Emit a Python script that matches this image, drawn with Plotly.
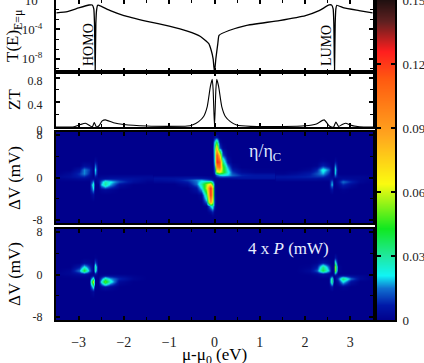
import numpy as np
import plotly.graph_objects as go

W, H = 424, 363
SERIF = 'Liberation Serif'

# transmission, log10 T(E) at E = mu
T_X = [-3.49, -3.25, -3.0, -2.77, -2.70, -2.665, -2.65, -2.635, -2.62, -2.605, -2.58, -2.55, -2.30, -2.0,
       -1.49, -1.0, -0.6, -0.31, -0.126, -0.073, -0.03, -0.015, 0.0, 0.015, 0.03, 0.073, 0.10, 0.32, 0.69,
       1.43, 2.01, 2.31, 2.53, 2.585, 2.62, 2.635, 2.65, 2.665, 2.68, 2.70, 2.86, 3.19, 3.49]
T_LOG = [-1.74, -1.57, -1.07, -0.66, -0.66, -1.2, -3.2, -9.77, -3.2, -1.43, -0.7, -0.7, -1.43, -2.1,
         -2.88, -3.55, -4.23, -4.95, -5.93, -6.84, -8.0, -9.0, -9.8, -9.0, -8.0, -5.93, -4.8, -4.14, -3.46,
         -2.78, -2.1, -1.43, -0.66, -0.66, -1.2, -3.2, -9.77, -3.2, -1.2, -0.7, -1.07, -1.43, -1.75]

# figure of merit
ZT_X = [-3.5, -3.1, -2.96, -2.85, -2.75, -2.70, -2.655, -2.605, -2.55, -2.48, -2.41, -2.23, -2.0, -1.49,
        -1.05, -0.6, -0.49, -0.35, -0.24, -0.16, -0.09, -0.05, -0.03, 0.0, 0.03, 0.05, 0.09, 0.16, 0.24,
        0.35, 0.49, 0.8, 1.5, 2.0, 2.25, 2.42, 2.53, 2.585, 2.63, 2.68, 2.74, 2.82, 2.9, 3.0, 3.2, 3.5]
ZT_Y = [0.0, 0.005, 0.04, 0.06, 0.02, 0.0, 0.07, 0.0, 0.02, 0.1, 0.115, 0.07, 0.04, 0.015,
        0.01, 0.015, 0.033, 0.087, 0.17, 0.33, 0.66, 0.77, 0.6, 0.0, 0.6, 0.77, 0.66, 0.33, 0.17,
        0.087, 0.033, 0.01, 0.008, 0.02, 0.05, 0.115, 0.02, 0.0, 0.0, 0.08, 0.01, 0.04, 0.06, 0.03, 0.005, 0.0]

# heat map grids, bias rows are shared by the side patches
BIAS = [-4.5, -3.2, -2.2, -1.4, -0.7, -0.2, 0.2, 0.8, 1.5, 2.3, 3.2, 4.2]
LEFT_X = [-3.5, -3.2, -3.0, -2.88, -2.77, -2.69, -2.63, -2.57, -2.5, -2.42, -2.3, -2.1, -1.8, -1.5]
RIGHT_X = [1.5, 1.8, 2.1, 2.25, 2.38, 2.52, 2.585, 2.625, 2.66, 2.72, 2.84, 3.0, 3.2, 3.5]
MID_X = [-1.2, -0.9, -0.6, -0.4, -0.28, -0.18, -0.1, -0.04, 0.0, 0.05, 0.1, 0.18, 0.28, 0.4, 0.6, 0.9, 1.2]
MID_BIAS = [-7.0, -6.4, -5.4, -4.5, -3.25, -2.0, -1.1, -0.4, 0.0, 0.5, 1.1, 2.0, 3.0, 4.25, 5.5, 6.75, 7.6]

# efficiency and power, all in units of 1e-3
ETA_LEFT = [
    [0, 0, 0, 0, 0, 0, 0, 0, 0, 0, 0, 0, 0, 0],
    [0, 0, 0, 0, 0, 4, 0, 0, 0, 0, 0, 0, 0, 0],
    [0, 0, 0, 0, 0, 18, 0, 0, 2, 3, 2, 0, 0, 0],
    [0, 0, 0, 0, 0, 26, 0, 0, 18, 30, 18, 4, 0, 0],
    [0, 0, 0, 0, 0, 16, 0, 3, 14, 28, 22, 12, 4, 1],
    [1, 2, 3, 3, 2, 3, 2, 3, 4, 5, 6, 6, 5, 3],
    [2, 4, 7, 8, 4, 1, 6, 1, 2, 2, 3, 3, 3, 3],
    [0, 3, 9, 16, 8, 0, 16, 0, 0, 0, 0, 0, 0, 0],
    [0, 0, 5, 16, 10, 0, 20, 0, 0, 0, 0, 0, 0, 0],
    [0, 0, 0, 4, 3, 0, 14, 0, 0, 0, 0, 0, 0, 0],
    [0, 0, 0, 0, 0, 0, 3, 0, 0, 0, 0, 0, 0, 0],
    [0, 0, 0, 0, 0, 0, 0, 0, 0, 0, 0, 0, 0, 0],
]
ETA_RIGHT = [
    [0, 0, 0, 0, 0, 0, 0, 0, 0, 0, 0, 0, 0, 0],
    [0, 0, 0, 0, 0, 0, 0, 0, 0, 0, 0, 0, 0, 0],
    [0, 0, 0, 0, 0, 0, 5, 0, 0, 0, 1, 0, 0, 0],
    [0, 0, 0, 0, 0, 0, 20, 0, 0, 2, 8, 3, 0, 0],
    [0, 0, 0, 0, 0, 0, 16, 0, 0, 4, 15, 8, 2, 0],
    [4, 4, 4, 4, 3, 3, 5, 1, 1, 2, 4, 3, 2, 1],
    [6, 7, 8, 9, 9, 4, 2, 4, 10, 3, 2, 2, 2, 1],
    [1, 3, 7, 12, 18, 8, 0, 0, 20, 0, 0, 0, 0, 0],
    [0, 0, 2, 8, 24, 14, 0, 0, 24, 0, 0, 0, 0, 0],
    [0, 0, 0, 1, 8, 3, 0, 0, 16, 0, 0, 0, 0, 0],
    [0, 0, 0, 0, 1, 0, 0, 0, 3, 0, 0, 0, 0, 0],
    [0, 0, 0, 0, 0, 0, 0, 0, 0, 0, 0, 0, 0, 0],
]
ETA_MID = [
    [0, 0, 0, 0, 0, 0, 0, 2, 0, 0, 0, 0, 0, 0, 0, 0, 0],
    [0, 0, 0, 0, 0, 0, 3, 8, 0, 0, 0, 0, 0, 0, 0, 0, 0],
    [0, 0, 0, 0, 0, 1, 20, 28, 5, 0, 0, 0, 0, 0, 0, 0, 0],
    [0, 0, 0, 0, 0, 15, 95, 60, 8, 0, 0, 0, 0, 0, 0, 0, 0],
    [0, 0, 0, 0, 3, 35, 125, 80, 6, 0, 0, 0, 0, 0, 0, 0, 0],
    [0, 0, 0, 6, 22, 60, 125, 80, 5, 0, 0, 0, 0, 0, 0, 0, 0],
    [0, 0, 4, 14, 30, 55, 70, 40, 3, 0, 0, 0, 0, 0, 0, 0, 0],
    [4, 5, 10, 16, 18, 14, 10, 6, 2, 1, 0, 0, 0, 0, 0, 0, 0],
    [5, 5, 6, 6, 5, 4, 3, 2, 1, 3, 4, 4, 4, 5, 6, 6, 6],
    [0, 0, 0, 0, 0, 0, 0, 0, 4, 14, 20, 22, 20, 14, 8, 6, 6],
    [0, 0, 0, 0, 0, 0, 0, 0, 10, 55, 65, 50, 25, 10, 3, 1, 1],
    [0, 0, 0, 0, 0, 0, 0, 0, 15, 95, 105, 50, 18, 3, 0, 0, 0],
    [0, 0, 0, 0, 0, 0, 0, 0, 20, 125, 115, 35, 6, 0, 0, 0, 0],
    [0, 0, 0, 0, 0, 0, 0, 0, 25, 120, 75, 12, 1, 0, 0, 0, 0],
    [0, 0, 0, 0, 0, 0, 0, 0, 30, 80, 14, 2, 0, 0, 0, 0, 0],
    [0, 0, 0, 0, 0, 0, 0, 0, 20, 40, 3, 0, 0, 0, 0, 0, 0],
    [0, 0, 0, 0, 0, 0, 0, 0, 4, 4, 0, 0, 0, 0, 0, 0, 0],
]
POWER_LEFT = [
    [0, 0, 0, 0, 0, 0, 0, 0, 0, 0, 0, 0, 0, 0],
    [0, 0, 0, 0, 0, 3, 0, 0, 0, 0, 0, 0, 0, 0],
    [0, 0, 0, 0, 0, 25, 0, 0, 3, 5, 3, 0, 0, 0],
    [0, 0, 0, 0, 0, 60, 0, 0, 22, 50, 25, 3, 0, 0],
    [0, 0, 0, 0, 0, 30, 0, 0, 12, 30, 18, 8, 2, 0],
    [0, 1, 2, 2, 1, 4, 1, 0, 2, 4, 4, 3, 1, 0],
    [1, 2, 5, 7, 3, 0, 7, 0, 0, 0, 0, 0, 0, 0],
    [0, 2, 15, 42, 16, 0, 26, 0, 0, 0, 0, 0, 0, 0],
    [0, 0, 6, 22, 10, 0, 28, 0, 0, 0, 0, 0, 0, 0],
    [0, 0, 0, 3, 2, 0, 12, 0, 0, 0, 0, 0, 0, 0],
    [0, 0, 0, 0, 0, 0, 1, 0, 0, 0, 0, 0, 0, 0],
    [0, 0, 0, 0, 0, 0, 0, 0, 0, 0, 0, 0, 0, 0],
]
POWER_RIGHT = [
    [0, 0, 0, 0, 0, 0, 0, 0, 0, 0, 0, 0, 0, 0],
    [0, 0, 0, 0, 0, 0, 0, 0, 0, 0, 0, 0, 0, 0],
    [0, 0, 0, 0, 0, 0, 6, 0, 0, 0, 2, 0, 0, 0],
    [0, 0, 0, 0, 0, 0, 35, 0, 0, 4, 22, 5, 0, 0],
    [0, 0, 0, 0, 0, 0, 32, 0, 0, 10, 36, 14, 3, 0],
    [0, 0, 0, 1, 3, 2, 6, 0, 2, 3, 6, 4, 2, 0],
    [0, 0, 1, 3, 6, 3, 0, 3, 16, 0, 0, 0, 0, 0],
    [0, 0, 3, 12, 40, 18, 0, 3, 52, 2, 0, 0, 0, 0],
    [0, 0, 1, 6, 32, 12, 0, 3, 55, 2, 0, 0, 0, 0],
    [0, 0, 0, 1, 6, 2, 0, 0, 28, 0, 0, 0, 0, 0],
    [0, 0, 0, 0, 0, 0, 0, 0, 6, 0, 0, 0, 0, 0],
    [0, 0, 0, 0, 0, 0, 0, 0, 0, 0, 0, 0, 0, 0],
]

CBAR_TICKS = [0, 0.03, 0.06, 0.09, 0.12, 0.15]
CBAR_LABELS = ['0', '0.03', '0.06', '0.09', '0.12', '0.15']

ZMAX = 0.15
COLORS = [(0, '#00008c'), (0.007, '#0018a8'), (0.015, '#1070d0'), (0.021, '#10f5f5'), (0.03, '#20e8a0'),
          (0.043, '#10e820'), (0.064, '#fbfb10'), (0.087, '#ffa51e'), (0.113, '#ff5a10'), (0.126, '#ff1e1e'),
          (0.14, '#602020'), (0.15, '#201010')]
colorscale = [[v / ZMAX, c] for v, c in COLORS]


def ydom(top, bottom):
    return [1 - bottom / H, 1 - top / H]


XDOM = [56 / W, 373 / W]


def xaxis(anchor, labels=False):
    return dict(domain=XDOM, range=[-3.5, 3.5], anchor=anchor, tick0=-3, dtick=1, ticks='inside', ticklen=4,
                tickwidth=1.5, tickcolor='black', showline=True, linecolor='black', linewidth=2, mirror='ticks',
                showgrid=False, zeroline=False, showticklabels=labels, ticklabelstandoff=8, automargin=False,
                minor=dict(ticks='inside', dtick=0.5, ticklen=3, tickwidth=1.2, tickcolor='black', showgrid=False),
                tickfont=dict(family=SERIF, size=14, color='#222'))


def yaxis(anchor, top, bottom, yrange, vals, text, minor, size=12, shift=0):
    return dict(domain=ydom(top, bottom), range=yrange, anchor=anchor, tickmode='array', tickvals=vals,
                ticktext=text, ticks='inside', ticklen=4, tickwidth=1.5, tickcolor='black', showline=True,
                linecolor='black', linewidth=2, mirror='ticks', showgrid=False, zeroline=False,
                ticklabelstandoff=9, automargin=False, ticklabeloverflow='allow', ticklabelshift=shift,
                minor=dict(ticks='inside', tickmode='array', tickvals=minor, ticklen=3, tickwidth=1.2,
                           tickcolor='black', showgrid=False),
                tickfont=dict(family=SERIF, size=size, color='#222'))


def patch(x, y, z, n):
    return go.Heatmap(x=x, y=y, z=np.array(z) * 1e-3, zmin=0, zmax=ZMAX, colorscale=colorscale, zsmooth='best',
                      showscale=False, xaxis=f'x{n}', yaxis=f'y{n}')


fig = go.Figure()
fig.add_trace(go.Scatter(x=T_X, y=T_LOG, mode='lines', line=dict(color='black', width=1.3, shape='spline', smoothing=0.4),
                         xaxis='x', yaxis='y', showlegend=False))
fig.add_trace(go.Scatter(x=ZT_X, y=ZT_Y, mode='lines', line=dict(color='black', width=1.1, shape='spline', smoothing=0.5),
                         xaxis='x2', yaxis='y2', showlegend=False))
fig.add_trace(patch(LEFT_X, BIAS, ETA_LEFT, 3))
fig.add_trace(patch(MID_X, MID_BIAS, ETA_MID, 3))
fig.add_trace(patch(RIGHT_X, BIAS, ETA_RIGHT, 3))
fig.add_trace(patch(LEFT_X, BIAS, POWER_LEFT, 4))
fig.add_trace(patch(RIGHT_X, BIAS, POWER_RIGHT, 4))
# colour bar drawn as its own panel so the ticks can sit on both edges
fig.add_trace(go.Heatmap(x=[0, 1], y=[0, ZMAX], z=[[0, 0], [ZMAX, ZMAX]], zmin=0, zmax=ZMAX, colorscale=colorscale,
                         zsmooth='best', showscale=False, xaxis='x5', yaxis='y5'))

navy = COLORS[0][1]
bias_axis = dict(vals=[-8, 0, 8], text=['-8', '0', '8'], minor=[-4, 4], yrange=[-8.55, 8.55])

fig.update_layout(
    width=W, height=H, margin=dict(l=0, r=0, t=0, b=0), paper_bgcolor='white', plot_bgcolor='white',
    xaxis=xaxis('y'),
    yaxis=yaxis('x', 0, 72, [-9.8, 0.02], [-8, -4, 0], ['10<sup>-8</sup>', '10<sup>-4</sup>', '10<sup>0</sup>'],
                [-9.33, -6.67, -5.33, -2.67, -1.33], size=13),
    xaxis2=xaxis('y2'),
    yaxis2=yaxis('x2', 72, 127, [0, 0.89], [0, 0.4, 0.8], ['0', '0.4', '0.8'], [0.2, 0.6], shift=3),
    xaxis3=xaxis('y3'),
    yaxis3=yaxis('x3', 132, 223, **bias_axis),
    xaxis4=xaxis('y4', labels=True),
    yaxis4=yaxis('x4', 229, 320, **bias_axis),
    xaxis5=dict(domain=[377 / W, 395 / W], range=[0, 1], anchor='y5', showticklabels=False, ticks='',
                automargin=False, showline=True, linecolor='black', linewidth=2, mirror=True, showgrid=False,
                zeroline=False),
    yaxis5=dict(domain=ydom(0, 320), range=[0, ZMAX], anchor='x5', side='right', tickmode='array',
                tickvals=CBAR_TICKS, ticktext=CBAR_LABELS, ticks='inside', ticklen=4, tickwidth=1.5,
                tickcolor='black', showline=True, linecolor='black', linewidth=2, mirror='ticks', showgrid=False,
                automargin=False, zeroline=False, ticklabelstandoff=3, ticklabeloverflow='allow',
                tickfont=dict(family=SERIF, size=13, color='#222')),
)

# navy backing for the two maps
fig.add_shape(type='rect', xref='x3 domain', yref='y3 domain', x0=0, x1=1, y0=0, y1=1, fillcolor=navy,
              line_width=0, layer='below')
fig.add_shape(type='rect', xref='x4 domain', yref='y4 domain', x0=0, x1=1, y0=0, y1=1, fillcolor=navy,
              line_width=0, layer='below')


def label(text, px, py, size=15, angle=0, color='black'):
    fig.add_annotation(text=text, x=px / W, y=1 - py / H, xref='paper', yref='paper', showarrow=False,
                       textangle=angle, font=dict(family=SERIF, size=size, color=color),
                       xanchor='center', yanchor='middle')


label('T(E)<sub>E=μ</sub>', 14, 36, size=17, angle=-90)
label('ZT', 14, 100, size=17, angle=-90)
label('ΔV (mV)', 14, 178, size=17, angle=-90)
label('ΔV (mV)', 14, 274, size=17, angle=-90)
label('μ-μ<sub>0</sub> (eV)', 214, 356, size=17)
label('HOMO', 88, 45, size=14, angle=-90)
label('LUMO', 327, 46, size=14, angle=-90)
label('η/η<sub>C</sub>', 265, 152, size=18, color='#dfe8ff')
label('4 x <i>P</i> (mW)', 288, 248, size=17, color='#e8eeff')

fig.write_html("out.html", config=dict(displayModeBar=False),
               post_script="document.body.style.margin='0';document.body.style.overflow='hidden';")
